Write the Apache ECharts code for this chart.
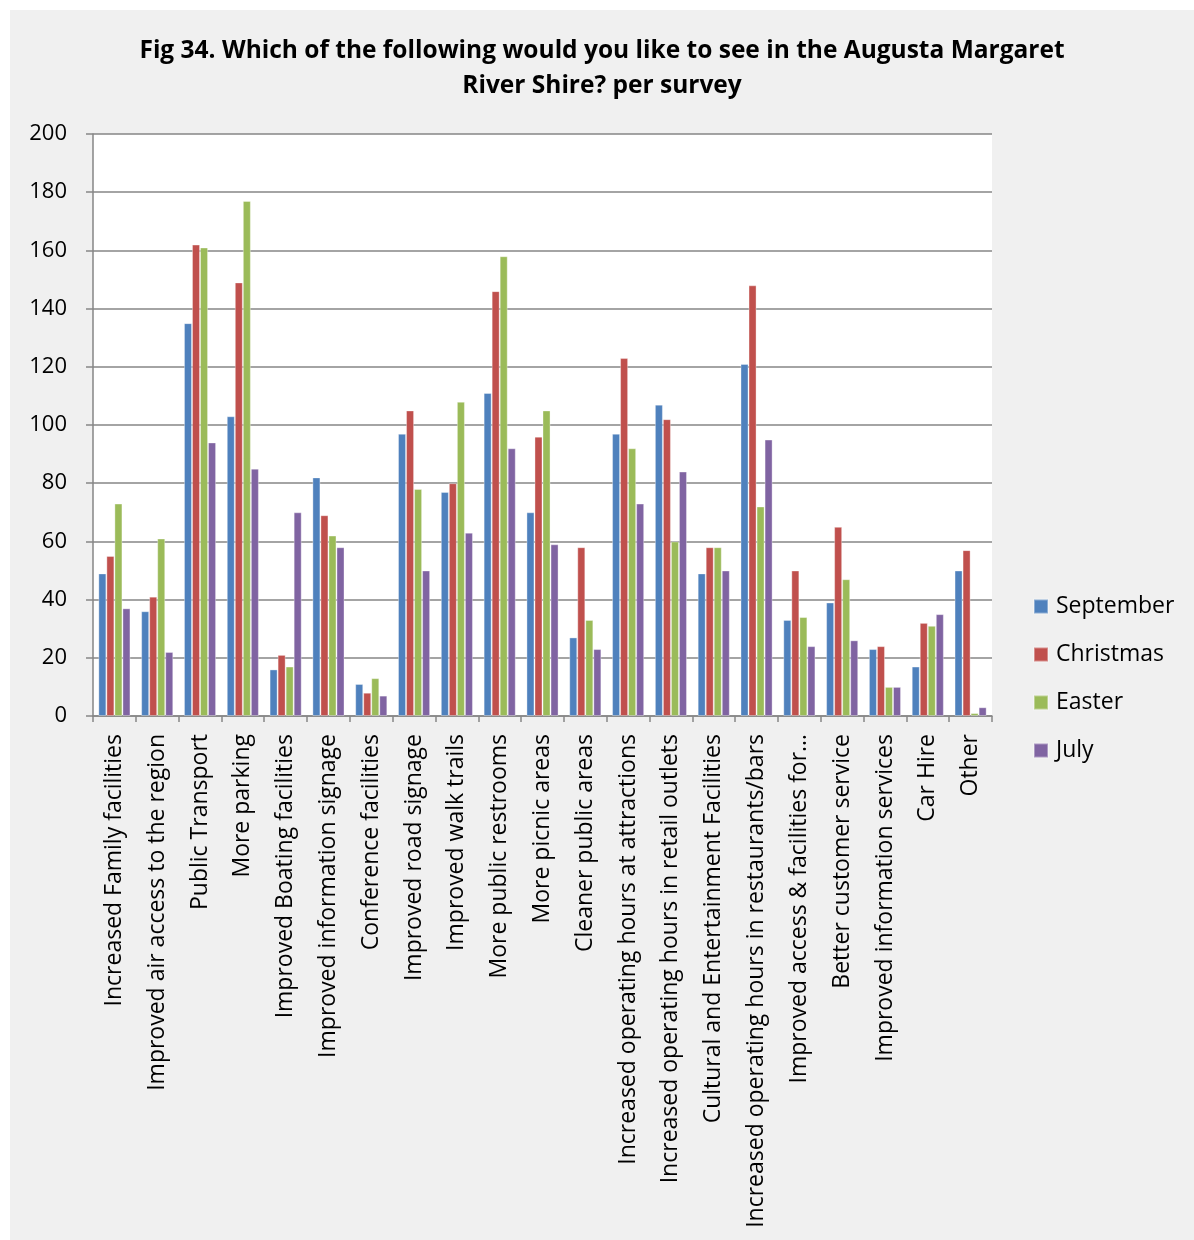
<!DOCTYPE html>
<html>
<head>
<meta charset="utf-8">
<style>
  html, body { margin: 0; padding: 0; background: #ffffff; }
  #chart { position: absolute; left: 10px; top: 10px; width: 1184px; height: 1230px; }
</style>
<script src="https://cdn.jsdelivr.net/npm/echarts@6/dist/echarts.min.js"></script>
</head>
<body>
<div id="chart"></div>
<script>
// Survey answers: facilities visitors would like to see, per survey period
const categories = [
  'Increased Family facilities',
  'Improved air access to the region',
  'Public Transport',
  'More parking',
  'Improved Boating facilities',
  'Improved information signage',
  'Conference facilities',
  'Improved road signage',
  'Improved walk trails',
  'More public restrooms',
  'More picnic areas',
  'Cleaner public areas',
  'Increased operating hours at attractions',
  'Increased operating hours in retail outlets',
  'Cultural and Entertainment Facilities',
  'Increased operating hours in restaurants/bars',
  'Improved access & facilities for…',
  'Better customer service',
  'Improved information services',
  'Car Hire',
  'Other'
];

const september = [49, 36, 135, 103, 16, 82, 11, 97, 77, 111, 70, 27, 97, 107, 49, 121, 33, 39, 23, 17, 50];
const christmas = [55, 41, 162, 149, 21, 69, 8, 105, 80, 146, 96, 58, 123, 102, 58, 148, 50, 65, 24, 32, 57];
const easter    = [73, 61, 161, 177, 17, 62, 13, 78, 108, 158, 105, 33, 92, 60, 58, 72, 34, 47, 10, 31, 1];
const july      = [37, 22, 94, 85, 70, 58, 7, 50, 63, 92, 59, 23, 73, 84, 50, 95, 24, 26, 10, 35, 3];

const yTicks = [0, 20, 40, 60, 80, 100, 120, 140, 160, 180, 200];

const seriesNames = ['September', 'Christmas', 'Easter', 'July'];
const seriesData = [september, christmas, easter, july];
const seriesColors = ['#4F81BD', '#C0504D', '#9BBB59', '#8064A2'];

const FONT = '"Open Sans", Lato, sans-serif';
const AXIS_GREY = '#868686';

const chart = echarts.init(document.getElementById('chart'), null, { renderer: 'canvas' });

chart.setOption({
  backgroundColor: '#f0f0f0',
  animation: false,
  textStyle: { fontFamily: FONT, color: '#000' },
  title: {
    text: 'Fig 34. Which of the following would you like to see in the Augusta Margaret\nRiver Shire? per survey',
    left: 'center',
    top: 19,
    textStyle: {
      fontFamily: FONT,
      fontSize: 24.5,
      fontWeight: 'bold',
      color: '#000',
      lineHeight: 35
    }
  },
  legend: {
    orient: 'vertical',
    left: 1018,
    top: 580,
    itemWidth: 14,
    itemHeight: 14,
    itemGap: 25,
    icon: 'rect',
    textStyle: { fontFamily: FONT, fontSize: 23, color: '#000', padding: [0, 0, 0, 3] },
    data: seriesNames
  },
  grid: {
    left: 83,
    top: 124,
    right: 202,
    bottom: 524,
    backgroundColor: '#ffffff',
    show: true,
    borderWidth: 0,
    containLabel: false
  },
  xAxis: {
    type: 'category',
    data: categories,
    axisLine: { show: true, lineStyle: { color: AXIS_GREY, width: 1.5 } },
    axisTick: { show: true, length: 6, lineStyle: { color: AXIS_GREY, width: 1.5 } },
    axisLabel: {
      rotate: 90,
      interval: 0,
      margin: 18,
      fontFamily: FONT,
      fontSize: 23,
      color: '#000'
    },
    splitLine: { show: false }
  },
  yAxis: {
    type: 'value',
    min: yTicks[0],
    max: yTicks[yTicks.length - 1],
    interval: yTicks[1] - yTicks[0],
    axisLine: { show: true, lineStyle: { color: AXIS_GREY, width: 1.5 } },
    axisTick: { show: true, length: 7, lineStyle: { color: AXIS_GREY, width: 1.5 } },
    axisLabel: {
      margin: 26,
      fontFamily: FONT,
      fontSize: 22,
      color: '#000'
    },
    splitLine: { show: true, lineStyle: { color: AXIS_GREY, width: 1.5 } }
  },
  series: seriesNames.map((name, i) => ({
    name: name,
    type: 'bar',
    data: seriesData[i],
    barGap: '0%',
    barCategoryGap: '25%',
    itemStyle: {
      color: seriesColors[i],
      borderColor: 'rgba(255,255,255,0.35)',
      borderWidth: 1
    }
  }))
});
</script>
</body>
</html>
